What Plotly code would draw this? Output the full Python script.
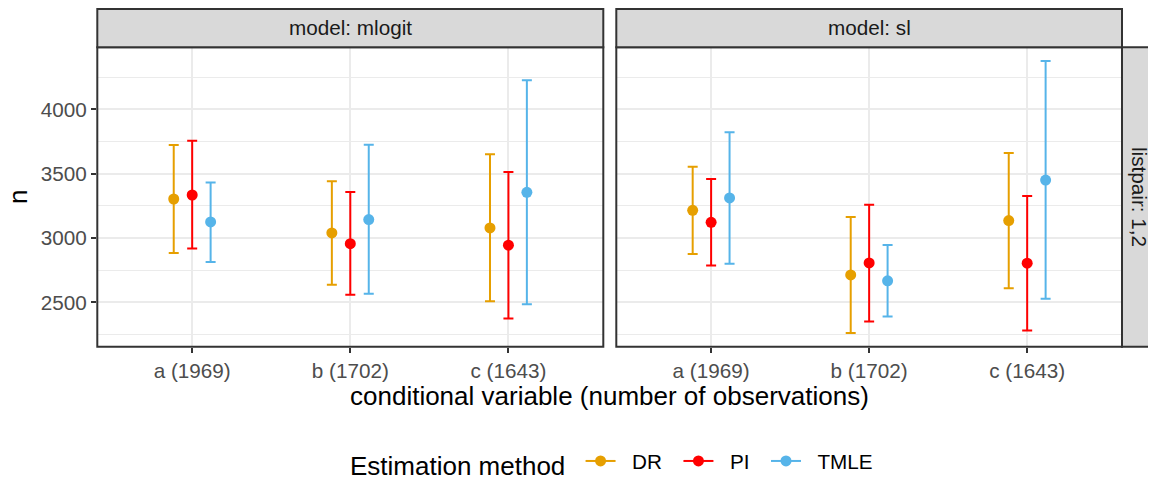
import plotly.graph_objects as go

# ---------------- data ----------------
categories = ["a (1969)", "b (1702)", "c (1643)"]
methods = ["DR", "PI", "TMLE"]
models = ["mlogit", "sl"]

mlogit_DR_est = [3304, 3040, 3079]
mlogit_DR_lo = [2885, 2637, 2510]
mlogit_DR_hi = [3723, 3441, 3651]
mlogit_PI_est = [3335, 2957, 2945]
mlogit_PI_lo = [2919, 2559, 2375]
mlogit_PI_hi = [3756, 3358, 3513]
mlogit_TMLE_est = [3126, 3144, 3356]
mlogit_TMLE_lo = [2815, 2567, 2487]
mlogit_TMLE_hi = [3433, 3726, 4227]

sl_DR_est = [3216, 2714, 3136]
sl_DR_lo = [2877, 2262, 2611]
sl_DR_hi = [3555, 3164, 3661]
sl_PI_est = [3123, 2807, 2805]
sl_PI_lo = [2787, 2352, 2282]
sl_PI_hi = [3459, 3260, 3327]
sl_TMLE_est = [3312, 2668, 3451]
sl_TMLE_lo = [2800, 2391, 2528]
sl_TMLE_hi = [3822, 2947, 4377]

y_ticks = [2500, 3000, 3500, 4000]
y_minor = [2250, 2750, 3250, 3750, 4250]

data = {
    "mlogit": {
        "DR": (mlogit_DR_est, mlogit_DR_lo, mlogit_DR_hi),
        "PI": (mlogit_PI_est, mlogit_PI_lo, mlogit_PI_hi),
        "TMLE": (mlogit_TMLE_est, mlogit_TMLE_lo, mlogit_TMLE_hi),
    },
    "sl": {
        "DR": (sl_DR_est, sl_DR_lo, sl_DR_hi),
        "PI": (sl_PI_est, sl_PI_lo, sl_PI_hi),
        "TMLE": (sl_TMLE_est, sl_TMLE_lo, sl_TMLE_hi),
    },
}

# ---------------- style ----------------
colors = {"DR": "#E69F00", "PI": "#FF0000", "TMLE": "#56B4E9"}
FONT = "Liberation Sans, Arial, Helvetica, sans-serif"
W, H = 1156, 478
PAGE_OFF = 8  # default body margin of the html page
DODGE = 0.35
BASE = 26
SMALL = 20.7
NB = "\u00a0"

# panel geometry in screen px
px_left = [97.3, 616.3]
px_right = [603.3, 1122.0]
py_top, py_bot = 47.3, 346.7
strip_top = 9.0

def fx(p):
    return (p - PAGE_OFF) / W

def fy(p):
    return 1 - (p - PAGE_OFF) / H

fig = go.Figure()

offsets = {m: (i - 1) * DODGE / 3 for i, m in enumerate(methods)}

for pi, model in enumerate(models):
    xa = "x" if pi == 0 else "x2"
    ya = "y" if pi == 0 else "y2"
    for m in methods:
        est, lo, hi = data[model][m]
        xs = [i + 1 + offsets[m] for i in range(len(categories))]
        fig.add_trace(go.Scatter(
            x=xs, y=est, mode="markers",
            marker=dict(color=colors[m], size=11),
            error_y=dict(type="data", symmetric=False,
                         array=[h - e for h, e in zip(hi, est)],
                         arrayminus=[e - l for e, l in zip(est, lo)],
                         color=colors[m], thickness=2, width=5),
            xaxis=xa, yaxis=ya, showlegend=False, name=m,
        ))

# legend entries
for k, m in enumerate(methods):
    label = NB * 2 + m + (NB * 2 if k < len(methods) - 1 else "")
    fig.add_trace(go.Scatter(
        x=[None], y=[None], mode="lines+markers", name=label,
        line=dict(color=colors[m], width=2),
        marker=dict(color=colors[m], size=11),
        showlegend=True,
    ))

all_lo = [v for model in models for m in methods for v in data[model][m][1]]
all_hi = [v for model in models for m in methods for v in data[model][m][2]]
span = max(all_hi) - min(all_lo)
yrange = [min(all_lo) - 0.05 * span, max(all_hi) + 0.05 * span]

grid = "#EBEBEB"
dark = "#333333"

xaxis_common = dict(
    range=[0.4, 3.6], tickmode="array", tickvals=[1, 2, 3], ticktext=categories,
    showgrid=True, gridcolor=grid, gridwidth=1.8, zeroline=False, showline=False,
    ticks="outside", ticklen=5.5, tickwidth=2, tickcolor=dark,
    tickfont=dict(family=FONT, size=SMALL, color="#4D4D4D"),
)
yaxis_common = dict(
    range=yrange, tickmode="array", tickvals=y_ticks,
    showgrid=True, gridcolor=grid, gridwidth=1.8, zeroline=False, showline=False,
    minor=dict(tickmode="array", tickvals=y_minor, showgrid=True, gridcolor=grid, gridwidth=0.9, ticks=""),
    tickfont=dict(family=FONT, size=SMALL, color="#4D4D4D"),
    domain=[fy(py_bot), fy(py_top)],
)

fig.update_layout(
    width=W, height=H,
    margin=dict(l=0, r=0, t=0, b=0),
    plot_bgcolor="white", paper_bgcolor="white",
    font=dict(family=FONT, color="#000000"),
    xaxis=dict(xaxis_common, domain=[fx(px_left[0]), fx(px_right[0])], anchor="y"),
    xaxis2=dict(xaxis_common, domain=[fx(px_left[1]), fx(px_right[1])], anchor="y2"),
    yaxis=dict(yaxis_common, anchor="x", ticks="outside", ticklen=5.5, tickwidth=2, tickcolor=dark),
    yaxis2=dict(yaxis_common, anchor="x2", matches="y", showticklabels=False, ticks=""),
    legend=dict(
        orientation="h", x=fx(613), xanchor="center", y=fy(463), yanchor="middle",
        title=dict(text="Estimation method" + NB, side="left",
                   font=dict(family=FONT, size=BASE, color="#000000")),
        font=dict(family=FONT, size=SMALL, color="#000000"),
        itemwidth=30, bgcolor="rgba(0,0,0,0)",
    ),
    showlegend=True,
)

shapes = []
annotations = []
strip_fill = "#D9D9D9"
for pi, model in enumerate(models):
    # panel border
    shapes.append(dict(type="rect", xref="paper", yref="paper",
                       x0=fx(px_left[pi]), x1=fx(px_right[pi]), y0=fy(py_bot), y1=fy(py_top),
                       line=dict(color=dark, width=2), fillcolor="rgba(0,0,0,0)", layer="above"))
    # top strip
    shapes.append(dict(type="rect", xref="paper", yref="paper",
                       x0=fx(px_left[pi]), x1=fx(px_right[pi]), y0=fy(py_top), y1=fy(strip_top),
                       line=dict(color=dark, width=2), fillcolor=strip_fill, layer="above"))
    annotations.append(dict(text="model: " + model, xref="paper", yref="paper",
                            x=fx((px_left[pi] + px_right[pi]) / 2), y=fy(27.5),
                            xanchor="center", yanchor="middle", showarrow=False,
                            font=dict(family=FONT, size=SMALL, color="#1A1A1A")))
# right strip
shapes.append(dict(type="rect", xref="paper", yref="paper",
                   x0=fx(px_right[1]), x1=fx(W + 30), y0=fy(py_bot), y1=fy(py_top),
                   line=dict(color=dark, width=2), fillcolor=strip_fill, layer="above"))
annotations.append(dict(text="listpair: 1,2", xref="paper", yref="paper",
                        x=fx(1140), y=fy((py_top + py_bot) / 2), textangle=90,
                        xanchor="center", yanchor="middle", showarrow=False,
                        font=dict(family=FONT, size=SMALL, color="#1A1A1A")))
# axis titles
annotations.append(dict(text="conditional variable (number of observations)", xref="paper", yref="paper",
                        x=fx((px_left[0] + px_right[1]) / 2), y=fy(396),
                        xanchor="center", yanchor="middle", showarrow=False,
                        font=dict(family=FONT, size=BASE, color="#000000")))
annotations.append(dict(text="n", xref="paper", yref="paper",
                        x=fx(18), y=fy((py_top + py_bot) / 2), textangle=-90,
                        xanchor="center", yanchor="middle", showarrow=False,
                        font=dict(family=FONT, size=BASE, color="#000000")))

fig.update_layout(shapes=shapes, annotations=annotations)

fig.write_html("out.html")
